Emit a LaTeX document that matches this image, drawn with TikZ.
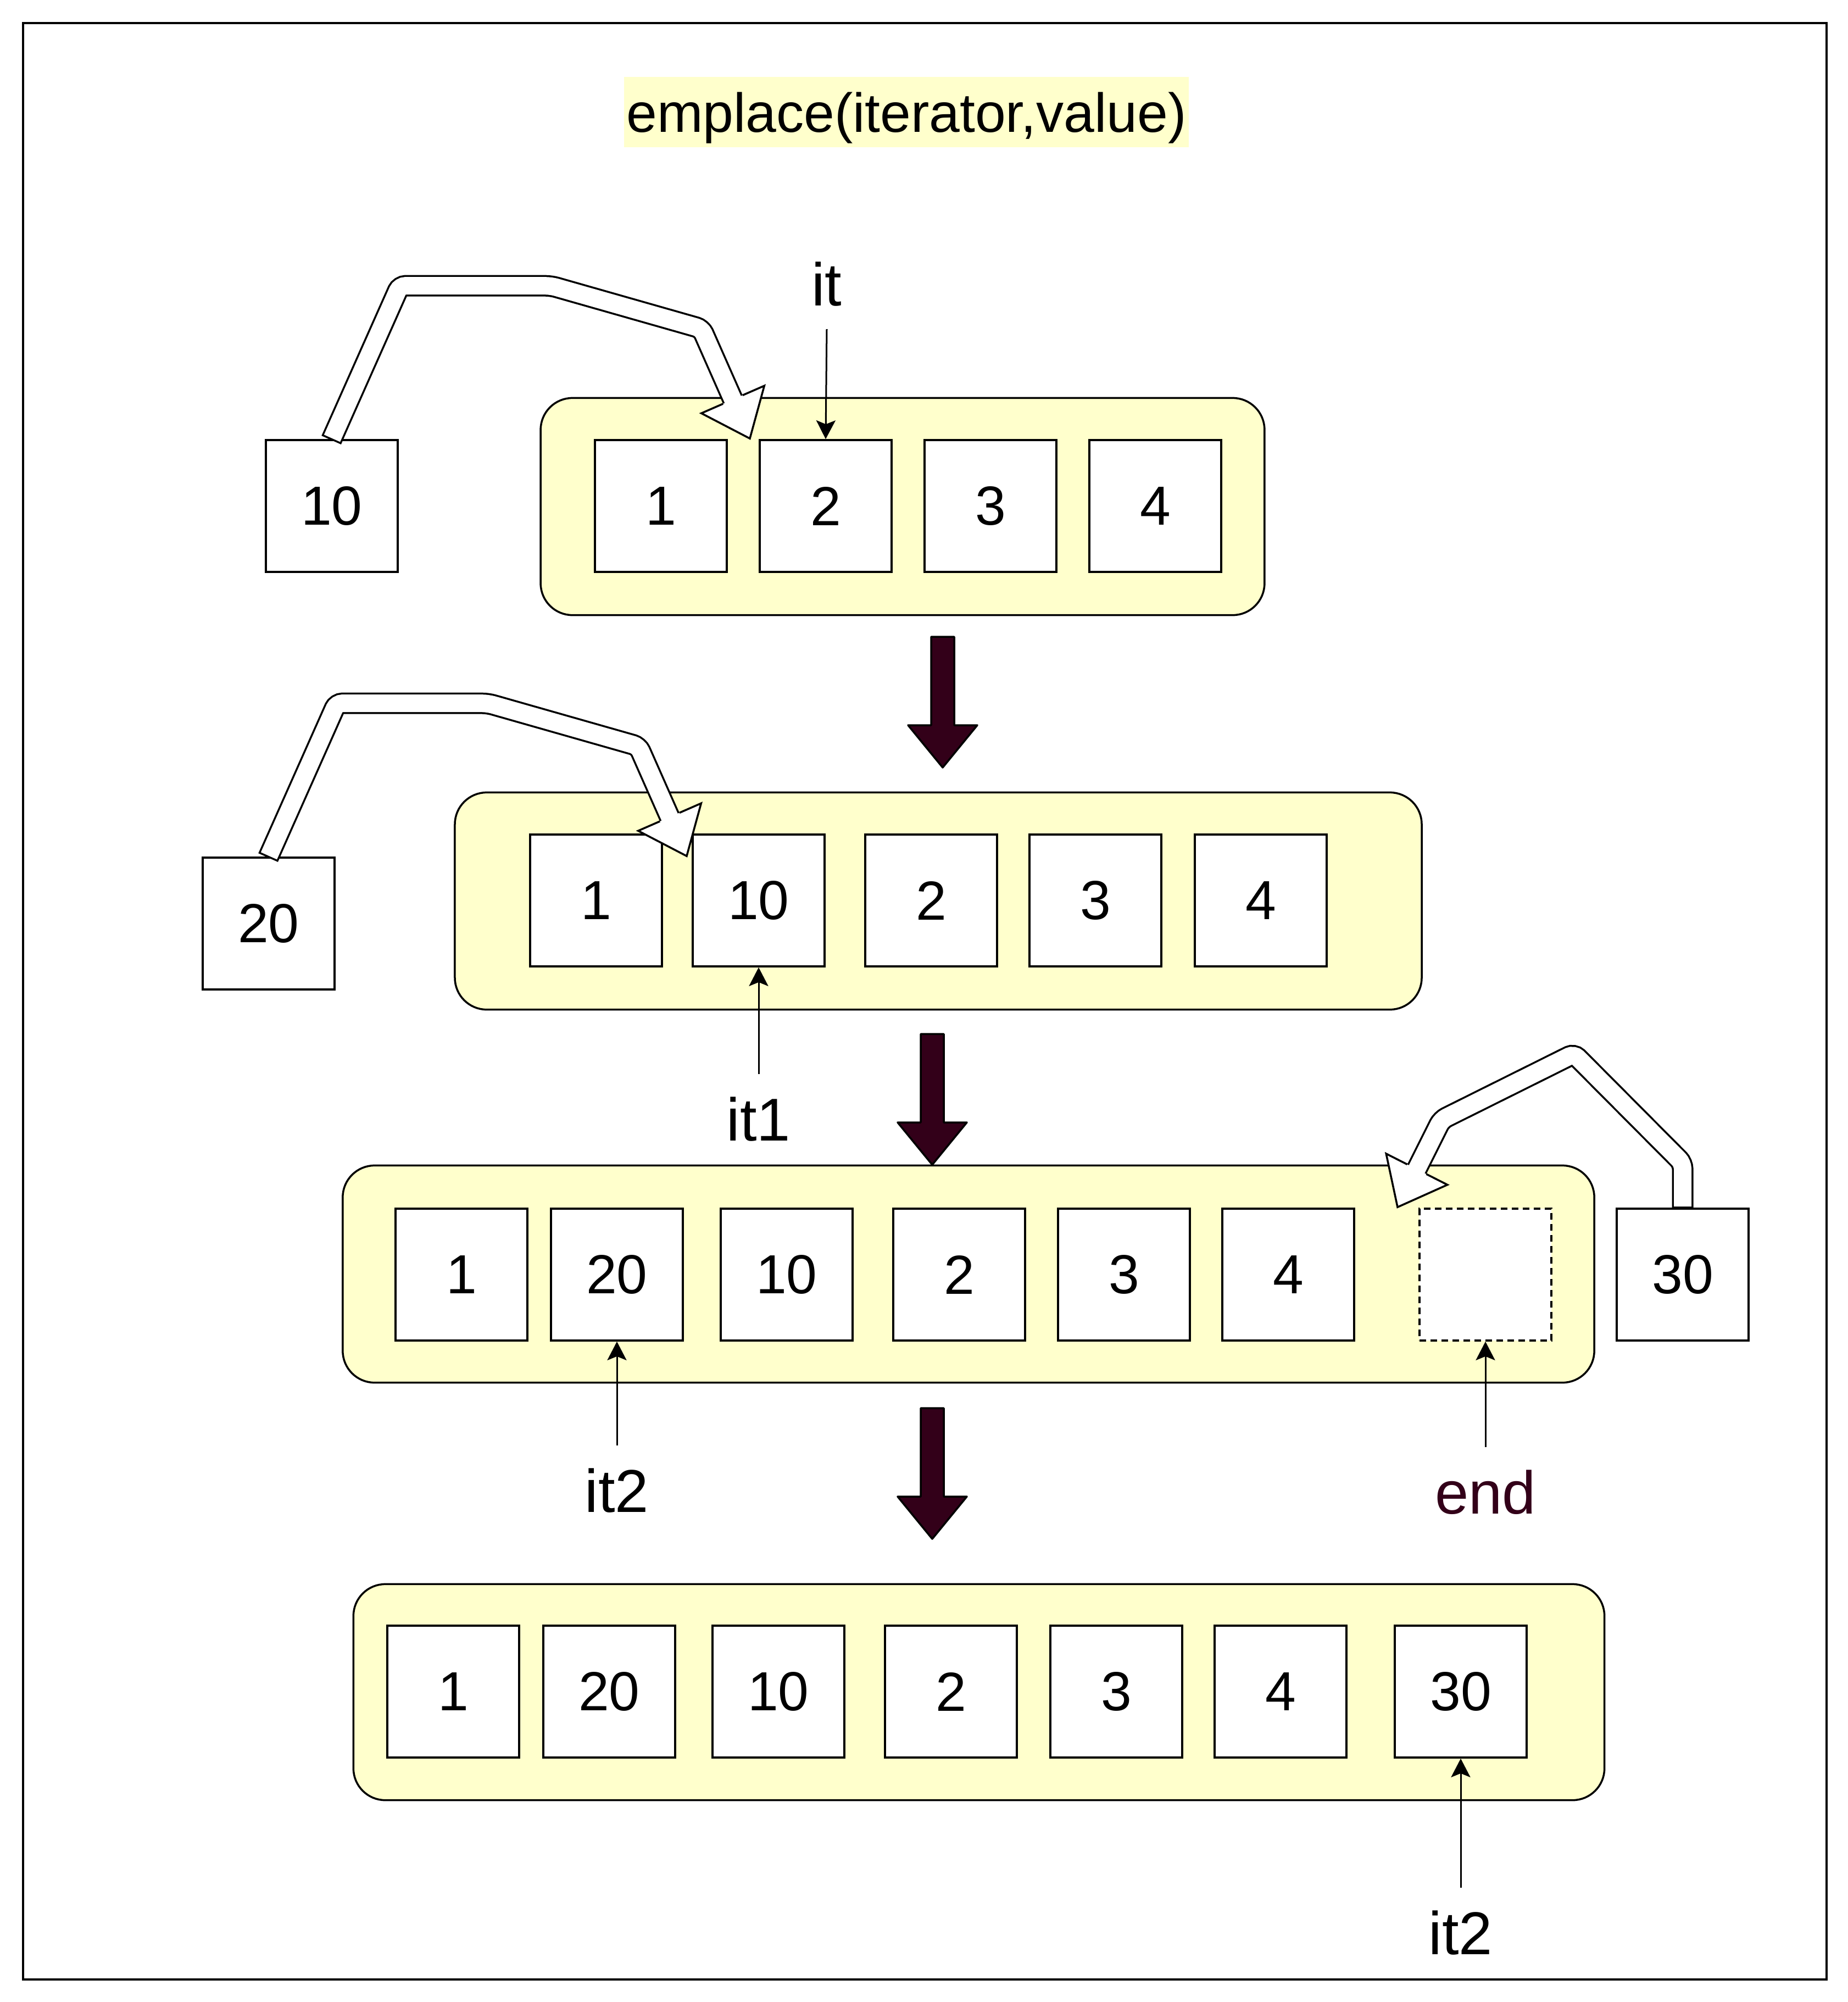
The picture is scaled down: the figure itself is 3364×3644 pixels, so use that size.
\documentclass[tikz,border=0pt]{standalone}
\usepackage{fontspec}
\setmainfont{Liberation Sans}
\usetikzlibrary{arrows.meta,calc}
\definecolor{vecyellow}{HTML}{FFFFCC}
\definecolor{darkwine}{RGB}{51,0,25}
% open head of the fat "moves into" arrows: #1 base middle, #2 tip
\newcommand{\openhead}[2]{
\fill[white] ($(#1)!0.625cm!90:(#2)$) -- (#2) -- ($(#1)!0.625cm!-90:(#2)$) -- cycle;
\draw[line join=miter] ($(#1)!0.195cm!90:(#2)$) -- ($(#1)!0.625cm!90:(#2)$) -- (#2)
  -- ($(#1)!0.625cm!-90:(#2)$) -- ($(#1)!0.195cm!-90:(#2)$);
}
\tikzset{
  cell/.style={draw, fill=white, minimum size=2.4cm, inner sep=0pt, font=\fontsize{28.5}{34}\selectfont},
  slot/.style={cell, dash pattern=on 0.12cm off 0.08cm},
  vec/.style={draw, fill=vecyellow, rounded corners=0.58cm, inner sep=0pt, minimum height=3.95cm},
  ptr/.style={font=\fontsize{31.3}{38}\selectfont, inner sep=0.4cm},
  ptrarrow/.style={-{Stealth[length=0.34cm, width=0.35cm, inset=0.07cm]}, line width=0.03cm},
  shaft/.style={double=white, double distance=0.32cm, line cap=rect, rounded corners=0.1cm},
  pics/bigdown/.style={code={
    \filldraw[fill=darkwine, line join=round] (-21,0) -- (21,0) -- (21,161) -- (63,161)
      -- (0,238) -- (-63,161) -- (-21,161) -- cycle;}}
}
\begin{document}
\begin{tikzpicture}[x=0.01cm, y=-0.01cm, line width=0.035cm]
\useasboundingbox (0,0) rectangle (3364,3644);
\draw (42,42) rectangle (3325,3603);

\node[fill=vecyellow, minimum width=10.28cm, minimum height=1.27cm, inner sep=0pt,
  text height=0.8cm, text depth=0.07cm, font=\fontsize{28.5}{34}\selectfont] (ttl) at (1650,204) {emplace(iterator,value)};

% containers
\node[vec, minimum width=13.17cm] (va) at (1643,922) {};
\node[vec, minimum width=17.59cm] (vb) at (1708,1640) {};
\node[vec, minimum width=22.77cm] (vc) at (1763,2319) {};
\node[vec, minimum width=22.76cm, minimum height=3.93cm] (vd) at (1782,3080) {};

% row 1
\node[cell] (a0) at (604,921) {10};
\node[cell] (a1) at (1203,921) {1};
\node[cell] (a2) at (1503,921) {2};
\node[cell] (a3) at (1803,921) {3};
\node[cell] (a4) at (2103,921) {4};
\node[ptr] (lit) at (1505,517) {it};
\draw[ptrarrow] (lit.south) -- (a2.north);

% row 2
\node[cell] (b0) at (489,1681) {20};
\node[cell] (b1) at (1085,1639) {1};
\node[cell] (b2) at (1381,1639) {10};
\node[cell] (b3) at (1695,1639) {2};
\node[cell] (b4) at (1994,1639) {3};
\node[cell] (b5) at (2295,1639) {4};
\node[ptr] (lit1) at (1381,2037) {it1};
\draw[ptrarrow] (lit1.north) -- (b2.south);

% row 3
\node[cell] (c1) at (840,2320) {1};
\node[cell] (c2) at (1123,2320) {20};
\node[cell] (c3) at (1432,2320) {10};
\node[cell] (c4) at (1746,2320) {2};
\node[cell] (c5) at (2046,2320) {3};
\node[cell] (c6) at (2345,2320) {4};
\node[slot] (c7) at (2704,2320) {};
\node[cell] (c0) at (3063,2320) {30};
\node[ptr] (lit2) at (1123,2713) {it2};
\node[ptr, text=darkwine] (lend) at (2704,2716) {end};
\draw[ptrarrow] (lit2.north) -- (c2.south);
\draw[ptrarrow] (lend.north) -- (c7.south);

% row 4
\node[cell] (d1) at (825,3079) {1};
\node[cell] (d2) at (1109,3079) {20};
\node[cell] (d3) at (1417,3079) {10};
\node[cell] (d4) at (1731,3079) {2};
\node[cell] (d5) at (2032,3079) {3};
\node[cell] (d6) at (2331,3079) {4};
\node[cell] (d7) at (2659,3079) {30};
\node[ptr] (lit3) at (2659,3518) {it2};
\draw[ptrarrow] (lit3.north) -- (d7.south);

% fat arrows: value goes into the vector
\draw[shaft] ($(a0.north)+(7,-16)$) -- ($(a0.north)+(124,-279)$) -- ($(a0.north)+(399,-279)$)
  -- ($(a0.north)+(673,-201)$) -- ($(a0.north)+(730,-72)$) coordinate (ha);
\coordinate (hat) at ($(a0.north)+(761,-1)$);
\openhead{ha}{hat}

\draw[shaft] ($(b0.north)+(7,-16)$) -- ($(b0.north)+(124,-279)$) -- ($(b0.north)+(399,-279)$)
  -- ($(b0.north)+(673,-201)$) -- ($(b0.north)+(730,-72)$) coordinate (hb);
\coordinate (hbt) at ($(b0.north)+(761,-1)$);
\openhead{hb}{hbt}

\draw[shaft] ($(c0.north)+(0,-18)$) -- ($(c0.north)+(0,-81)$) -- ($(c0.north)+(-198,-280)$)
  -- ($(c0.north)+(-439,-160)$) -- ($(c0.north)+(-484,-70)$) coordinate (hc);
\coordinate (hct) at ($(c0.north)+(-519,-1)$);
\openhead{hc}{hct}

% steps
\pic at (1716,1159) {bigdown};
\pic at (1697,1882) {bigdown};
\pic at (1697,2563) {bigdown};
\end{tikzpicture}
\end{document}
